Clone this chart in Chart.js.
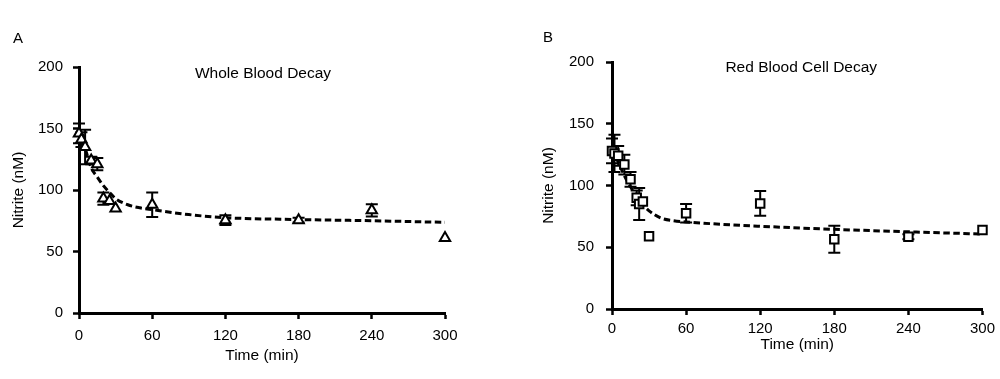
<!DOCTYPE html>
<html>
<head>
<meta charset="utf-8">
<script src="https://cdn.jsdelivr.net/npm/chart.js@4.4.1/dist/chart.umd.min.js"></script>
<style>
  html, body { margin: 0; padding: 0; background: #fff; }
  #wrap { position: relative; width: 1000px; height: 379px; overflow: hidden; }
  canvas { position: absolute; top: 0; }
  .panel { position: absolute; font-family: "Liberation Sans", Arial, Helvetica, sans-serif; font-size: 15px; line-height: 18px; color: #000; }
</style>
</head>
<body>
<div id="wrap">
  <canvas id="cA" width="500" height="379" style="left:0px"></canvas>
  <canvas id="cB" width="500" height="379" style="left:500px"></canvas>
  <div class="panel" style="left:13px; top:29px;">A</div>
  <div class="panel" style="left:543px; top:28px;">B</div>
</div>
<script>
// ---- Panel A: Whole Blood Decay (triangles) ----
const timeA   = [0, 2, 5, 10, 15, 20, 25, 30, 60, 120, 180, 240, 300];
const nitriteA = [146, 141, 135, 124, 121, 93, 91, 85, 88, 75.5, 75.5, 83.5, 61];
const errorA  = [8, 6, 14, 3, 5, 5, 0, 0, 10, 4, 2, 5, 0];
const fitTimeA = [0, 5, 10, 15, 20, 25, 30, 40, 50, 60, 90, 120, 180, 240, 300];
const fitValA  = [148, 134, 118, 110.5, 103.5, 98, 93, 88, 85.5, 84, 80, 77.5, 76, 75, 73.7];

// ---- Panel B: Red Blood Cell Decay (squares) ----
const timeB   = [0, 2, 5, 10, 15, 20, 22, 25, 30, 60, 120, 180, 240, 300];
const nitriteB = [128, 126, 124, 117, 105, 90, 85, 87, 59, 77.5, 85.5, 56.5, 58.5, 64];
const errorB  = [10, 15, 8, 8, 6, 6, 13, 0, 0, 7.5, 10, 11, 2, 0];
const fitTimeB = [0, 5, 10, 15, 20, 25, 30, 40, 50, 60, 90, 120, 180, 240, 300];
const fitValB  = [130, 119, 108, 99, 91, 84.5, 79.5, 73.5, 71.5, 70.5, 68.5, 67, 64.5, 62.5, 60.7];

const xTicks = [0, 60, 120, 180, 240, 300];
const yTicks = [0, 50, 100, 150, 200];
const titleA = "Whole Blood Decay";
const titleB = "Red Blood Cell Decay";

const FONT = '"Liberation Sans", Arial, Helvetica, sans-serif';
Chart.defaults.font.family = FONT;
Chart.defaults.font.size = 15;
Chart.defaults.color = '#000';

const errorBars = {
  id: 'errorBars',
  beforeDatasetsDraw(chart) {
    const ctx = chart.ctx;
    const xs = chart.scales.x, ys = chart.scales.y;
    chart.data.datasets.forEach(ds => {
      if (!ds.errors) return;
      ctx.save();
      ctx.strokeStyle = '#000';
      ctx.lineWidth = 2;
      ds.data.forEach((p, i) => {
        const e = ds.errors[i];
        if (!e) return;
        const x = xs.getPixelForValue(p.x);
        const y1 = ys.getPixelForValue(p.y + e);
        const y2 = ys.getPixelForValue(p.y - e);
        ctx.beginPath();
        ctx.moveTo(x, y1); ctx.lineTo(x, y2);
        ctx.moveTo(x - 6, y1); ctx.lineTo(x + 6, y1);
        ctx.moveTo(x - 6, y2); ctx.lineTo(x + 6, y2);
        ctx.stroke();
      });
      ctx.restore();
    });
  }
};

const innerTitle = {
  id: 'innerTitle',
  afterDraw(chart, args, opts) {
    const ctx = chart.ctx, a = chart.chartArea;
    ctx.save();
    ctx.font = opts.size + 'px ' + FONT;
    ctx.fillStyle = '#000';
    ctx.textAlign = 'center';
    ctx.textBaseline = 'middle';
    ctx.fillText(opts.text, (a.left + a.right) / 2 + (opts.dx || 0), a.top + opts.dy);
    ctx.restore();
  }
};

function pts(xs, ys) { return xs.map((x, i) => ({ x: x, y: ys[i] })); }

function makeChart(id, p) {
  return new Chart(document.getElementById(id), {
    type: 'scatter',
    data: {
      datasets: [
        {
          data: pts(p.t, p.v),
          errors: p.err,
          pointStyle: p.style,
          pointRadius: 6,
          pointHoverRadius: 6,
          pointBorderWidth: 2,
          pointBackgroundColor: '#fff',
          pointBorderColor: '#000',
          showLine: false,
          clip: false,
          order: 0
        },
        {
          data: pts(p.ft, p.fv),
          showLine: true,
          borderColor: '#000',
          borderWidth: 3,
          borderDash: [6.5, 3.5],
          pointRadius: 0,
          cubicInterpolationMode: 'monotone',
          fill: false,
          clip: false,
          order: 1
        }
      ]
    },
    options: {
      responsive: false,
      animation: false,
      devicePixelRatio: 1,
      events: [],
      layout: { padding: { left: p.padL, right: p.padR, top: p.padT, bottom: 0 } },
      plugins: {
        legend: { display: false },
        tooltip: { enabled: false },
        innerTitle: { text: p.title, size: 15.5, dy: p.titleDy, dx: p.titleDx }
      },
      scales: {
        x: {
          type: 'linear', min: 0, max: 300,
          afterFit: s => { s.height = p.xH; },
          afterBuildTicks: s => { s.ticks = xTicks.map(v => ({ value: v })); },
          border: { display: true, color: '#000', width: 3 },
          grid: { display: true, drawOnChartArea: false, drawTicks: true, tickLength: 6, tickWidth: 2.5, tickColor: '#000', color: '#000' },
          ticks: { padding: p.xTickPad, maxRotation: 0, autoSkip: false, font: { size: 15 } },
          title: { display: true, text: 'Time (min)', font: { size: 15.5 }, padding: { top: 0, bottom: p.xTitlePad } }
        },
        y: {
          type: 'linear', min: 0, max: 200,
          afterFit: s => { s.width = p.yW; },
          afterBuildTicks: s => { s.ticks = yTicks.map(v => ({ value: v })); },
          border: { display: true, color: '#000', width: 3 },
          grid: { display: true, drawOnChartArea: false, drawTicks: true, tickLength: 6, tickWidth: 2.5, tickColor: '#000', color: '#000' },
          ticks: { padding: p.yTickPad, font: { size: 15 } },
          title: { display: true, text: 'Nitrite (nM)', font: { size: 15.5 }, padding: { top: p.yTitlePad, bottom: 0 } }
        }
      }
    },
    plugins: [errorBars, innerTitle]
  });
}

makeChart('cA', {
  t: timeA, v: nitriteA, err: errorA, ft: fitTimeA, fv: fitValA, style: 'triangle',
  title: titleA, titleDy: 7, titleDx: 1,
  padL: 0, padR: 55, padT: 67, yW: 79, xH: 66,
  xTickPad: 8, xTitlePad: 14, yTickPad: 10, yTitlePad: 9
});

makeChart('cB', {
  t: timeB, v: nitriteB, err: errorB, ft: fitTimeB, fv: fitValB, style: 'rect',
  title: titleB, titleDy: 6, titleDx: 4,
  padL: 30, padR: 17, padT: 62, yW: 82, xH: 70,
  xTickPad: 5, xTitlePad: 25, yTickPad: 12, yTitlePad: 9
});
</script>
</body>
</html>
